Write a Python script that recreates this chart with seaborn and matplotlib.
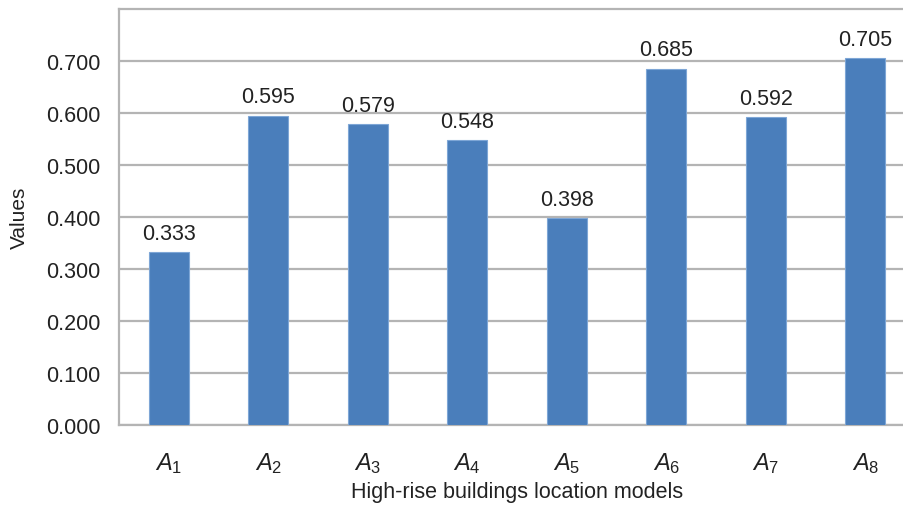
import matplotlib
matplotlib.use("Agg")
import matplotlib.pyplot as plt
import seaborn as sns
import pandas as pd

models = ["A1", "A2", "A3", "A4", "A5", "A6", "A7", "A8"]
tick_labels = [r"$A_{%d}$" % i for i in range(1, 9)]
values = [0.333, 0.595, 0.579, 0.548, 0.398, 0.685, 0.592, 0.705]
y_ticks = [0.0, 0.1, 0.2, 0.3, 0.4, 0.5, 0.6, 0.7]

sns.set_theme(style="white")
plt.rcParams["font.family"] = ["Liberation Sans", "DejaVu Sans"]
plt.rcParams["mathtext.fontset"] = "custom"
plt.rcParams["mathtext.it"] = "Liberation Sans:italic"
plt.rcParams["mathtext.rm"] = "Liberation Sans"

df = pd.DataFrame({"model": models, "value": values})

fig = plt.figure(figsize=(9.04, 5.06), dpi=100)
ax = fig.add_axes([119 / 904, 1 - 426 / 506, 796 / 904, 416 / 506])

sns.barplot(data=df, x="model", y="value", color="#4a7ebb", width=0.4,
            saturation=1, edgecolor="#7ea6d6", linewidth=0.8, ax=ax, zorder=3)

ax.set_ylim(0, 0.8)
ax.set_xlim(-0.5, 7.5)
ax.set_yticks(y_ticks)
ax.set_yticklabels([f"{v:.3f}" for v in y_ticks])
ax.set_xticks(range(len(models)))
ax.set_xticklabels(tick_labels)
ax.tick_params(axis="y", labelsize=15.5, length=0, pad=13.5, colors="#222222")
ax.tick_params(axis="x", labelsize=17, length=0, pad=18, colors="#222222")

ax.yaxis.grid(True, color="#b4b4b4", linewidth=1.6, zorder=0)
ax.set_axisbelow(True)
for side, sp in ax.spines.items():
    sp.set_color("#b4b4b4")
    sp.set_linewidth(1.6)
ax.spines["right"].set_visible(False)

for i, v in enumerate(values):
    ax.text(i, v + 0.016, f"{v:.3f}", ha="center", va="bottom",
            fontsize=15.5, color="#222222")

ax.set_xlabel("High-rise buildings location models", fontsize=15.5,
              color="#222222")
ax.xaxis.set_label_coords(0.5, -0.16)
ax.xaxis.label.set_va("center")
ax.set_ylabel("Values", fontsize=15, color="#222222", labelpad=12)

fig.savefig("out.png", dpi=100)
